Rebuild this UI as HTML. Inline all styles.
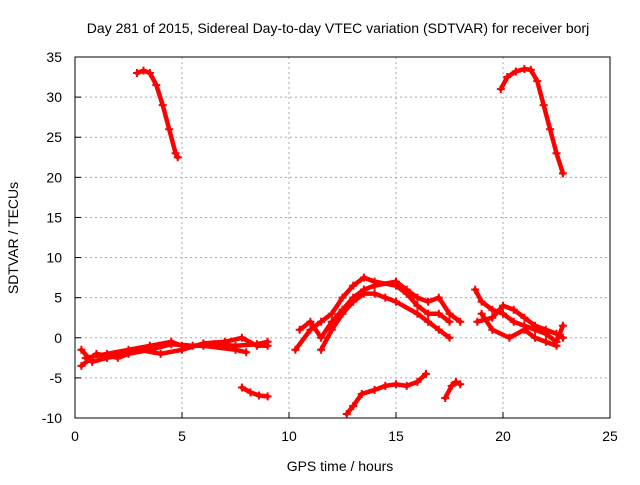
<!DOCTYPE html>
<html><head><meta charset="utf-8"><style>
body{margin:0;background:#fff}
svg{font-family:"Liberation Sans",sans-serif;font-size:14px}
</style></head><body>
<svg id="c" width="640" height="480">
<rect width="640" height="480" fill="#fff"/>
<text x="338" y="33" text-anchor="middle">Day 281 of 2015, Sidereal Day-to-day VTEC variation (SDTVAR) for receiver borj</text>
<text x="340" y="471" text-anchor="middle">GPS time / hours</text>
<text transform="translate(18,238) rotate(-90)" text-anchor="middle">SDTVAR / TECUs</text>
<g id="grid"></g><g id="marks"></g>
<rect x="75" y="57" width="535" height="361" fill="none" stroke="#000"/>
</svg>
<script>
const xTicks=[0,5,10,15,20,25];
const yTicks=[-10,-5,0,5,10,15,20,25,30,35];
const track1=[[2.9,33],[3.2,33.3],[3.5,33],[3.8,31.5],[4.1,29],[4.4,26],[4.7,23],[4.8,22.5]];
const track2=[[19.9,31],[20.2,32.5],[20.6,33.2],[21,33.5],[21.3,33.4],[21.6,32],[21.9,29],[22.2,26],[22.5,23],[22.8,20.5]];
const track3=[[7.8,-6.2],[8.2,-6.8],[8.6,-7.2],[9,-7.3]];
const track4=[[12.7,-9.5],[13,-8.5],[13.4,-7],[14,-6.5],[14.5,-6],[15,-5.8],[15.5,-6],[16,-5.5],[16.4,-4.5]];
const track5=[[17.3,-7.5],[17.6,-6],[17.8,-5.5],[18,-5.8]];
const track6=[[0.3,-1.5],[0.8,-3],[1.5,-2.5],[2.5,-2],[3.5,-1.5],[4.5,-0.8],[5.5,-1],[6.5,-0.8],[7.5,-1],[8.5,-0.8],[9,-0.5]];
const track7=[[0.3,-3.5],[1,-2],[2,-2.5],[3,-1.5],[4,-2],[5,-1.5],[6,-0.7],[7,-0.5],[7.8,0],[8.5,-1],[9,-1]];
const track8=[[0.5,-2.5],[1.5,-2],[2.5,-1.5],[3.5,-1],[4.5,-0.5],[5,-1],[6,-1],[7.5,-1.5],[8,-1.8]];
const track9=[[10.3,-1.5],[11,1],[11.5,2],[12,3],[12.5,5],[13,6.5],[13.5,7.5],[14,7],[15,6.5],[15.5,5.5],[16,4],[16.5,3],[17,3],[17.5,2]];
const track10=[[10.5,1],[11,2],[11.5,0],[12,2],[12.5,3.5],[13,5],[13.5,6],[14,6.5],[15,7],[15.5,6],[16,5],[16.5,4.5],[17,5],[17.5,3],[18,2]];
const track11=[[11.5,-1.5],[12,1],[12.5,3],[13,4.5],[13.5,5.5],[14,5.5],[14.5,5],[15,4.5],[16,3],[16.5,2],[17,1],[17.5,0]];
const track12=[[18.7,6],[19,4.5],[19.5,3.5],[20,3],[20.5,2],[21,1.5],[21.5,1],[22,0.5],[22.5,-0.5],[22.8,1.5]];
const track13=[[18.8,2],[19.5,2.5],[20,4],[20.5,3.5],[21,2.5],[21.5,1.5],[22,1],[22.5,0.5],[22.8,0]];
const track14=[[19,3],[19.5,1],[20.3,0],[21,1],[21.5,0],[22,-0.5],[22.5,-1]];
const tracks=[track1,track2,track3,track4,track5,track6,track7,track8,track9,track10,track11,track12,track13,track14];
const NS="http://www.w3.org/2000/svg";
function sx(v){return 75+v*(535/25);}
function sy(v){return 418-(v+10)*(361/45);}
const grid=document.getElementById('grid'),marks=document.getElementById('marks');
function mk(tag,a,p){const e=document.createElementNS(NS,tag);for(const k in a)e.setAttribute(k,a[k]);p.appendChild(e);return e;}
xTicks.forEach(t=>{
  if(t>0&&t<25){const l=mk('line',{x1:sx(t),x2:sx(t),y1:57,y2:418,stroke:'#aaa','stroke-dasharray':'2,3'},grid);
  
  }
  const tx=mk('text',{x:sx(t),y:441,'text-anchor':'middle'},grid);tx.textContent=t;
  
  
  mk('line',{x1:sx(t),x2:sx(t),y1:418,y2:412,stroke:'#000'},grid);
});
yTicks.forEach(t=>{
  if(t>-10&&t<35){const l=mk('line',{x1:75,x2:610,y1:sy(t),y2:sy(t),stroke:'#aaa','stroke-dasharray':'2,3'},grid);
  
  }
  const tx=mk('text',{x:62,y:sy(t)+5,'text-anchor':'end'},grid);tx.textContent=t;
  
  
  mk('line',{x1:75,x2:81,y1:sy(t),y2:sy(t),stroke:'#000'},grid);
});
tracks.forEach((tr,i)=>{
  const pl=mk('polyline',{points:tr.map(p=>sx(p[0])+','+sy(p[1])).join(' '),fill:'none',stroke:'#f00','stroke-width':4.5,'stroke-linejoin':'round','stroke-linecap':'round'},marks);
  
  
  tr.forEach(p=>{
    const x=sx(p[0]),y=sy(p[1]);
    const m=mk('path',{d:`M${x-4},${y}H${x+4}M${x},${y-4}V${y+4}`,stroke:'#f00','stroke-width':2},marks);
    
    
  });
});
</script>
</body></html>
